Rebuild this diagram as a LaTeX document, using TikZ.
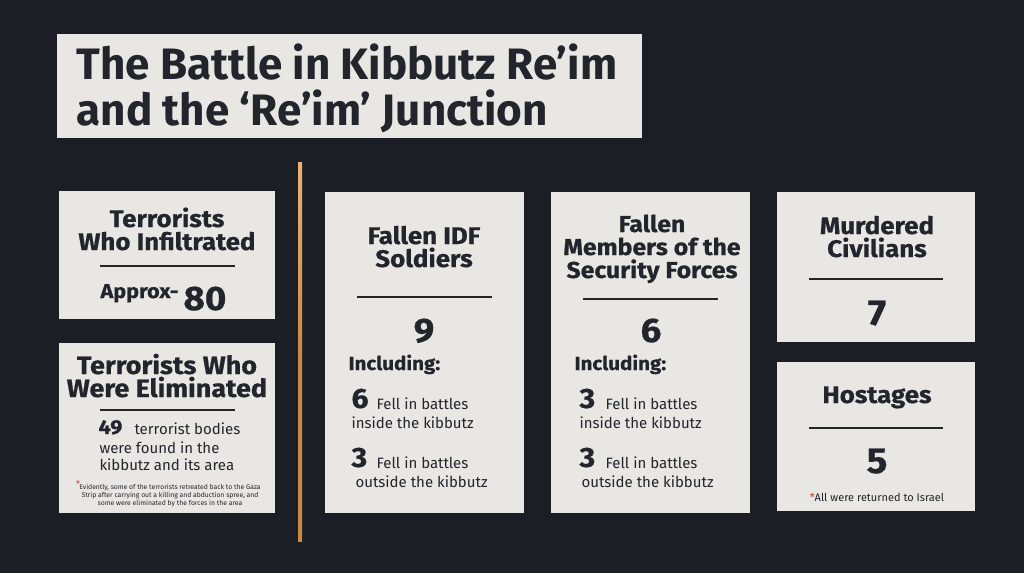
\documentclass[tikz,border=0pt]{standalone}
\usepackage{fontspec}
\setmainfont{Fira Sans}
\newfontfamily\headfont{Fira Sans}[FakeStretch=1.08, FakeBold=0.6]
\definecolor{night}{HTML}{1B1E24}
\definecolor{paper}{HTML}{E9E7E3}
\definecolor{ink}{HTML}{22252C}
\definecolor{copper}{HTML}{C98A45}
\definecolor{copperlight}{HTML}{E8B27A}
\definecolor{starred}{HTML}{D0342C}
\newcommand{\fsz}[2]{\fontsize{#1}{#2}\selectfont}
\begin{document}
\begin{tikzpicture}[x=1pt, y=-1pt,
    card/.style={rectangle, fill=paper, draw=none, inner sep=0pt, anchor=north west},
    head/.style={text=ink, anchor=base, align=center, font=\headfont\bfseries\fsz{#1}{23}},
    head/.default=23,
    bignum/.style={text=ink, font=\headfont\bfseries\fsz{34}{34}},
    smallnum/.style={text=ink, anchor=base west, font=\headfont\bfseries\fsz{28}{28}},
    body/.style={text=ink, anchor=base west, align=left, font=\fsz{15}{18}},
    label/.style={text=ink, anchor=base west, font=\headfont\bfseries\fsz{19}{19}},
    rule/.style={draw=ink, line width=2.5pt}]

    % Background
    \fill[night] (0,0) rectangle (1024,573);

    % Title (base = last line)
    \node[card, minimum width=585pt, minimum height=104pt] at (57,34) (title) {};
    \node[text=ink, anchor=base west, align=left, font=\bfseries\fsz{44}{46}] at (73,125) (titletext)
        {The Battle in Kibbutz Re’im\\and the ‘Re’im’ Junction};

    % Divider
    \shade[top color=copperlight, bottom color=copper, middle color=copper] (298,162) rectangle (302,541);

    % Cards
    \node[card, minimum width=216pt, minimum height=128pt] at (59,191) (infil) {};
    \node[card, minimum width=216pt, minimum height=170pt] at (59,343) (elim) {};
    \node[card, minimum width=199pt, minimum height=321pt] at (325,192) (idf) {};
    \node[card, minimum width=199pt, minimum height=321pt] at (551,192) (sec) {};
    \node[card, minimum width=198pt, minimum height=150pt] at (777,192) (civ) {};
    \node[card, minimum width=198pt, minimum height=149pt] at (777,362) (host) {};

    % Terrorists who infiltrated
    \node[head=24] at (167,250) (infilhead) {Terrorists\\Who Infiltrated};
    \draw[rule] (100,266) -- (235,266);
    \node[label, font=\headfont\bfseries\fsz{20}{20}] at (97,298) (approx) {Approx-};
    \node[bignum, anchor=base west] at (180,310) (infilnum) {80};

    % Terrorists who were eliminated
    \node[head=25] at (167,397) (elimhead) {Terrorists Who\\Were Eliminated};
    \draw[rule] (100,410) -- (235,410);
    \node[text=ink, anchor=base west, font=\headfont\bfseries\fsz{20}{20}] at (95,434) (elimnum) {49};
    \node[body] at (131,434) (elimtext) {terrorist bodies};
    \node[body, font=\fsz{15}{17}] at (96,470) (elimmore) {were found in the\\kibbutz and its area};
    \node[text=starred, anchor=base, font=\fsz{9}{9}] at (78,487) (elimstar) {*};
    \node[text=ink, anchor=base, align=center, font=\fsz{6.8}{8}] at (170,505) (elimnote)
        {Evidently, some of the terrorists retreated back to the Gaza\\Strip after carrying out a killing and abduction spree, and\\some were eliminated by the forces in the area};

    % Fallen IDF soldiers
    \node[head=24] at (424,267) (idfhead) {Fallen IDF\\Soldiers};
    \draw[rule] (357,297) -- (492,297);
    \node[bignum, anchor=base] at (424,342) (idfnum) {9};
    \node[label] at (345,370) (idfinc) {Including:};
    \node[smallnum] at (348,408) (idfin) {6};
    \node[body] at (373,409) (idfinfell) {Fell in battles};
    \node[body] at (348,428) (idfinwhere) {inside the kibbutz};
    \node[smallnum] at (348,467) (idfout) {3};
    \node[body] at (373,468) (idfoutfell) {Fell in battles};
    \node[body] at (352,487) (idfoutwhere) {outside the kibbutz};

    % Fallen members of the security forces
    \node[head] at (652,278) (sechead) {Fallen\\Members of the\\Security Forces};
    \draw[rule] (583,299) -- (718,299);
    \node[bignum, anchor=base] at (651,342) (secnum) {6};
    \node[label] at (571,370) (secinc) {Including:};
    \node[smallnum] at (576,408) (secin) {3};
    \node[body] at (602,409) (secinfell) {Fell in battles};
    \node[body] at (576,428) (secinwhere) {inside the kibbutz};
    \node[smallnum] at (576,467) (secout) {3};
    \node[body] at (602,468) (secoutfell) {Fell in battles};
    \node[body] at (578,487) (secoutwhere) {outside the kibbutz};

    % Murdered civilians
    \node[head=24] at (877,257) (civhead) {Murdered\\Civilians};
    \draw[rule] (809,279) -- (943,279);
    \node[bignum, anchor=base, font=\headfont\bfseries\fsz{36}{36}] at (877,325) (civnum) {7};

    % Hostages
    \node[head=24] at (877,403) (hosthead) {Hostages};
    \draw[rule] (809,428) -- (943,428);
    \node[bignum, anchor=base, font=\headfont\bfseries\fsz{36}{36}] at (877,473) (hostnum) {5};
    \node[text=ink, anchor=base, font=\fsz{11}{11}] at (877,501) (hostnote)
        {\textcolor{starred}{*}All were returned to Israel};

  \end{tikzpicture}
\end{document}
